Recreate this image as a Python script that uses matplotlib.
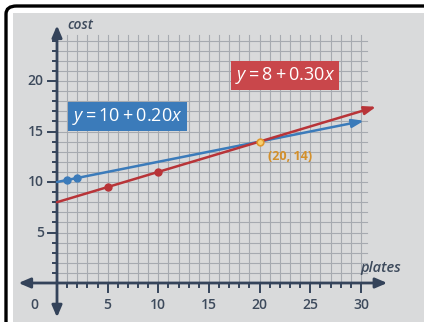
import matplotlib
matplotlib.use("Agg")
import matplotlib.pyplot as plt
from matplotlib.patches import FancyBboxPatch

plt.rcParams['font.family'] = ['Open Sans', 'DejaVu Sans']
plt.rcParams['mathtext.fontset'] = 'custom'
plt.rcParams['mathtext.rm'] = 'Open Sans'
plt.rcParams['mathtext.it'] = 'Open Sans:italic'

# data
x_ticks = [0, 5, 10, 15, 20, 25, 30]
y_ticks = [5, 10, 15, 20]
blue_line_x = [0, 30.3]
blue_line_y = [10, 16.06]
red_line_x = [0, 31.5]
red_line_y = [8, 17.45]
blue_pts_x = [1, 2]
blue_pts_y = [10.2, 10.4]
red_pts_x = [5, 10]
red_pts_y = [9.5, 11]
cross_x, cross_y = 20, 14

AXIS = "#34435a"
TXT = "#3d4a5c"
BLUE = "#3b7bba"
RED = "#b83438"
GRID = "#a6aab0"
BG = "#d9dadb"

W, H = 424, 322
fig = plt.figure(figsize=(W / 100, H / 100), dpi=100, facecolor="white")

# frame: black rounded border around a gray panel
fig.patches.append(FancyBboxPatch((6 / W, -30 / H), 460 / W, (316 + 30) / H,
                                  boxstyle="round,pad=0,rounding_size=0.025",
                                  transform=fig.transFigure, facecolor="none",
                                  edgecolor="black", linewidth=2.4, zorder=10))
ax = fig.add_axes([13 / W, 0, 1 - 13 / W, 309 / H])
ax.set_facecolor(BG)
for s in ax.spines.values():
    s.set_visible(False)
ax.set_xticks([])
ax.set_yticks([])
ax.set_xlim((13 - 57) / 10.13, (424 - 57) / 10.13)
ax.set_ylim((283 - 322) / 10.1, (283 - 13) / 10.1)

# grid
gx_max, gy_max = 30.6, 24.55
for i in range(1, 31):
    ax.plot([i, i], [0, gy_max], color=GRID, lw=0.8, zorder=1)
for j in range(1, 25):
    ax.plot([0, gx_max], [j, j], color=GRID, lw=0.8, zorder=1)

# axes with arrows on both ends
ax.annotate("", xy=(32.6, 0), xytext=(-3.8, 0),
            arrowprops=dict(arrowstyle="<|-|>,head_length=0.7,head_width=0.3",
                            color=AXIS, lw=2, shrinkA=0, shrinkB=0), zorder=3)
ax.annotate("", xy=(0, 25.5), xytext=(0, -3.4),
            arrowprops=dict(arrowstyle="<|-|>,head_length=0.7,head_width=0.3",
                            color=AXIS, lw=2, shrinkA=0, shrinkB=0), zorder=3)

# tick marks
for i in range(1, 31):
    L = 0.85 if i % 5 == 0 else 0.35
    ax.plot([i, i], [0, -L], color=AXIS, lw=1.4, zorder=3)
for j in range(1, 25):
    L = 0.9 if j % 5 == 0 else 0.35
    ax.plot([0, -L], [j, j], color=AXIS, lw=1.4, zorder=3)

# tick labels
for t in x_ticks:
    xx = -2.2 if t == 0 else t
    ax.text(xx, -2.2, str(t), ha="center", va="center", fontsize=10,
            fontweight="semibold", color=TXT)
for t in y_ticks:
    ax.text(-1.3, t, str(t), ha="right", va="center", fontsize=10,
            fontweight="semibold", color=TXT)

ax.text(1.0, 25.5, "cost", ha="left", va="center", fontsize=10,
        style="italic", fontweight="semibold", color=TXT)
ax.text(32.0, 1.5, "plates", ha="center", va="center", fontsize=10.5,
        style="italic", fontweight="semibold", color=TXT)

# lines
ax.annotate("", xy=(blue_line_x[1], blue_line_y[1]), xytext=(blue_line_x[0], blue_line_y[0]),
            arrowprops=dict(arrowstyle="-|>,head_length=0.7,head_width=0.25",
                            color=BLUE, lw=1.8, shrinkA=0, shrinkB=0), zorder=4)
ax.annotate("", xy=(red_line_x[1], red_line_y[1]), xytext=(red_line_x[0], red_line_y[0]),
            arrowprops=dict(arrowstyle="-|>,head_length=0.7,head_width=0.25",
                            color=RED, lw=1.8, shrinkA=0, shrinkB=0), zorder=4)
ax.plot(blue_pts_x, blue_pts_y, "o", color=BLUE, ms=5, zorder=5)
ax.plot(red_pts_x, red_pts_y, "o", color=RED, ms=5, zorder=5)
ax.plot([cross_x], [cross_y], "o", mfc="#f7cf70", mec="#e0982c", mew=1.2, ms=4.8, zorder=6)
ax.text(23.0, 12.5, "(20, 14)", ha="center", va="center", fontsize=9,
        fontweight="bold", color="#d3902b")

# equation labels
ax.text(6.96, 16.5, r"$y = 10 + 0.20x$", ha="center", va="center", fontsize=13,
        color="white", zorder=6,
        bbox=dict(boxstyle="square,pad=0.22", facecolor=BLUE, edgecolor="none"))
ax.text(22.5, 20.5, r"$y = 8 + 0.30x$", ha="center", va="center", fontsize=13,
        color="white", zorder=6,
        bbox=dict(boxstyle="square,pad=0.22", facecolor="#c9474b", edgecolor="none"))

fig.savefig("out.png", dpi=100, facecolor="white")
